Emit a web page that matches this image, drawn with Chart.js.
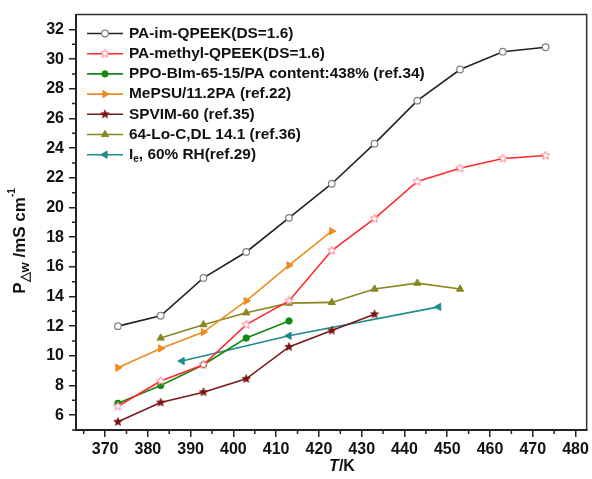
<!DOCTYPE html>
<html>
<head>
<meta charset="utf-8">
<script src="https://cdn.jsdelivr.net/npm/chart.js@4.4.1/dist/chart.umd.min.js"></script>
<style>
  html, body { margin: 0; padding: 0; background: #fff; }
  #wrap { width: 592px; height: 479px; }
</style>
</head>
<body>
<div id="wrap"><canvas id="chart" width="592" height="479"></canvas></div>
<script>
// Data (T in K, conductivity in mS/cm)
const tempsFull = [373, 383, 393, 403, 413, 423, 433, 443, 453, 463, 473];
const imQpeek = [12.0, 12.7, 15.25, 17.0, 19.3, 21.6, 24.3, 27.2, 29.3, 30.5, 30.8];
const methylQpeek = [6.6, 8.3, 9.4, 12.1, 13.7, 17.1, 19.25, 21.75, 22.65, 23.3, 23.5];
const ppoTemps = [373, 383, 393, 403, 413];
const ppoBim = [6.8, 8.0, 9.4, 11.2, 12.35];
const mepsuTemps = [373, 383, 393, 403, 413, 423];
const mepsu = [9.2, 10.5, 11.6, 13.7, 16.1, 18.4];
const spvimTemps = [373, 383, 393, 403, 413, 423, 433];
const spvim = [5.55, 6.85, 7.55, 8.45, 10.6, 11.7, 12.8];
const loTemps = [383, 393, 403, 413, 423, 433, 443, 453];
const loC = [11.2, 12.1, 12.9, 13.55, 13.6, 14.5, 14.9, 14.5];
const ieTemps = [388, 413, 448];
const ie = [9.65, 11.35, 13.3];

const seriesNames = [
  "PA-im-QPEEK(DS=1.6)",
  "PA-methyl-QPEEK(DS=1.6)",
  "PPO-BIm-65-15/PA content:438% (ref.34)",
  "MePSU/11.2PA (ref.22)",
  "SPVIM-60 (ref.35)",
  "64-Lo-C,DL 14.1 (ref.36)",
  "I{e}, 60% RH(ref.29)"
];
const xTicks = [370, 380, 390, 400, 410, 420, 430, 440, 450, 460, 470, 480];
const yTicks = [6, 8, 10, 12, 14, 16, 18, 20, 22, 24, 26, 28, 30, 32];

const FONT = '"Liberation Sans", Arial, sans-serif';

// 5-point star marker drawn into a small canvas
function starImage(r, fill, stroke, lw) {
  const s = Math.ceil(r * 2 + lw * 2 + 2);
  const c = document.createElement('canvas');
  c.width = s; c.height = s;
  const g = c.getContext('2d');
  g.translate(s / 2, s / 2);
  g.beginPath();
  for (let i = 0; i < 10; i++) {
    const rad = i % 2 === 0 ? r : r * 0.45;
    const a = -Math.PI / 2 + i * Math.PI / 5;
    g.lineTo(rad * Math.cos(a), rad * Math.sin(a));
  }
  g.closePath();
  if (fill) { g.fillStyle = fill; g.fill(); }
  if (stroke) { g.strokeStyle = stroke; g.lineWidth = lw; g.stroke(); }
  return c;
}

const openStar = starImage(4.5, '#fff', '#ff7f8f', 1);
const darkStar = starImage(4.5, '#7a1212', '#7a1212', 0.5);

function pts(xs, ys) {
  return xs.map((t, i) => ({ x: t, y: ys[i] }));
}

function series(label, xs, ys, color, marker) {
  return Object.assign({
    label: label,
    data: pts(xs, ys),
    borderColor: color,
    backgroundColor: color,
    borderWidth: 1.6,
    tension: 0,
    pointRadius: 3.5,
    pointBorderWidth: 1,
    pointBackgroundColor: color,
    pointBorderColor: color,
    pointRotation: 0
  }, marker);
}

const datasets = [
  series(seriesNames[0], tempsFull, imQpeek, '#222222',
    { pointStyle: 'circle', pointBackgroundColor: '#fff', pointBorderColor: '#808080', pointRadius: 3.3, pointBorderWidth: 1.2 }),
  series(seriesNames[1], tempsFull, methylQpeek, '#ff2a2a',
    { pointStyle: openStar }),
  series(seriesNames[2], ppoTemps, ppoBim, '#138a13',
    { pointStyle: 'circle', pointRadius: 3.2 }),
  series(seriesNames[3], mepsuTemps, mepsu, '#ef8c20',
    { pointStyle: 'triangle', pointRotation: 90, pointRadius: 4.2 }),
  series(seriesNames[4], spvimTemps, spvim, '#7a1a1a',
    { pointStyle: darkStar }),
  series(seriesNames[5], loTemps, loC, '#878722',
    { pointStyle: 'triangle', pointRadius: 4.2 }),
  series(seriesNames[6], ieTemps, ie, '#1f8c8c',
    { pointStyle: 'triangle', pointRotation: -90, pointRadius: 4.2 })
];

// draw text with {sub} parts
function drawRich(ctx, text, x, y, size) {
  const parts = text.split(/(\{[^}]*\})/).filter(p => p.length);
  parts.forEach(p => {
    if (p[0] === '{') {
      const t = p.slice(1, -1);
      ctx.font = 'bold ' + Math.round(size * 0.65) + 'px ' + FONT;
      ctx.fillText(t, x, y + size * 0.32);
      x += ctx.measureText(t).width;
    } else {
      ctx.font = 'bold ' + size + 'px ' + FONT;
      ctx.fillText(p, x, y);
      x += ctx.measureText(p).width;
    }
  });
}

const decorPlugin = {
  id: 'decor',
  afterDraw(chart) {
    const ctx = chart.ctx;
    const a = chart.chartArea;
    const xs = chart.scales.x;
    const ys = chart.scales.y;
    ctx.save();

    // top and right frame
    ctx.strokeStyle = '#333';
    ctx.lineWidth = 1.5;
    ctx.beginPath();
    ctx.moveTo(a.left, a.top);
    ctx.lineTo(a.right, a.top);
    ctx.lineTo(a.right, a.bottom);
    ctx.stroke();

    // minor ticks
    ctx.strokeStyle = '#222';
    ctx.lineWidth = 1.5;
    ctx.beginPath();
    for (let v = 365; v < xs.max; v += 10) {
      if (v < xs.min) continue;
      const px = xs.getPixelForValue(v);
      ctx.moveTo(px, a.bottom);
      ctx.lineTo(px, a.bottom + 4);
    }
    for (let v = 5; v < ys.max; v += 2) {
      if (v < ys.min) continue;
      const py = ys.getPixelForValue(v);
      ctx.moveTo(a.left, py);
      ctx.lineTo(a.left - 4, py);
    }
    ctx.stroke();

    // legend inside the plot
    const rowY0 = 33.5, rowStep = 20.2;
    ctx.textBaseline = 'middle';
    ctx.textAlign = 'left';
    chart.data.datasets.forEach((ds, i) => {
      const yy = rowY0 + i * rowStep;
      ctx.strokeStyle = ds.borderColor;
      ctx.lineWidth = ds.borderWidth;
      ctx.beginPath();
      ctx.moveTo(87, yy);
      ctx.lineTo(123, yy);
      ctx.stroke();
      ctx.fillStyle = ds.pointBackgroundColor;
      ctx.strokeStyle = ds.pointBorderColor;
      ctx.lineWidth = ds.pointBorderWidth;
      Chart.helpers.drawPoint(ctx, {
        pointStyle: ds.pointStyle,
        rotation: ds.pointRotation,
        radius: ds.pointRadius,
        borderWidth: ds.pointBorderWidth
      }, 105, yy);
      ctx.fillStyle = '#111';
      drawRich(ctx, ds.label, 129, yy, 15.4);
    });

    // y axis title, rotated
    ctx.save();
    ctx.translate(20, 241);
    ctx.rotate(-Math.PI / 2);
    ctx.fillStyle = '#111';
    ctx.textBaseline = 'middle';
    const big = 'bold 17px ' + FONT;
    const small = 'bold 13px ' + FONT;
    const tiny = 'bold 10px ' + FONT;
    const segs = [
      { t: 'P', f: big, dy: 0 },
      { t: '\u25B3w', f: small, dy: 5 },
      { t: ' /mS cm', f: big, dy: 0 },
      { t: '-1', f: tiny, dy: -8 }
    ];
    let total = 0;
    segs.forEach(s => { ctx.font = s.f; s.w = ctx.measureText(s.t).width; total += s.w; });
    let cx = -total / 2;
    segs.forEach(s => { ctx.font = s.f; ctx.fillText(s.t, cx, s.dy); cx += s.w; });
    ctx.restore();

    // x axis title
    ctx.fillStyle = '#111';
    ctx.textBaseline = 'middle';
    ctx.font = 'italic bold 16px ' + FONT;
    const tw = ctx.measureText('T').width;
    ctx.font = 'bold 16px ' + FONT;
    const kw = ctx.measureText('/K').width;
    const x0 = 342 - (tw + kw) / 2;
    ctx.font = 'italic bold 16px ' + FONT;
    ctx.fillText('T', x0, 467);
    ctx.font = 'bold 16px ' + FONT;
    ctx.fillText('/K', x0 + tw, 467);

    ctx.restore();
  }
};

new Chart(document.getElementById('chart'), {
  type: 'line',
  data: { datasets: datasets },
  plugins: [decorPlugin],
  options: {
    responsive: false,
    animation: false,
    devicePixelRatio: 1,
    layout: { padding: { top: 12, right: 2, left: 0, bottom: 0 } },
    plugins: {
      legend: { display: false },
      tooltip: { enabled: false }
    },
    scales: {
      x: {
        type: 'linear',
        min: 363.2,
        max: 482.6,
        afterBuildTicks: (scale) => { scale.ticks = xTicks.map(v => ({ value: v })); },
        afterFit: (scale) => { scale.height = 49; },
        border: { display: true, color: '#222', width: 2 },
        grid: { drawOnChartArea: false, drawTicks: true, tickLength: 7, color: '#222', lineWidth: 1.5 },
        ticks: {
          color: '#111',
          padding: 3,
          maxRotation: 0,
          autoSkip: false,
          font: { family: FONT, size: 16, weight: 'bold' }
        }
      },
      y: {
        min: 5,
        max: 33,
        afterBuildTicks: (scale) => { scale.ticks = yTicks.map(v => ({ value: v })); },
        afterFit: (scale) => { scale.width = 76; },
        border: { display: true, color: '#222', width: 2 },
        grid: { drawOnChartArea: false, drawTicks: true, tickLength: 7, color: '#222', lineWidth: 1.5 },
        ticks: {
          color: '#111',
          padding: 5,
          autoSkip: false,
          font: { family: FONT, size: 16, weight: 'bold' }
        }
      }
    }
  }
});
</script>
</body>
</html>
